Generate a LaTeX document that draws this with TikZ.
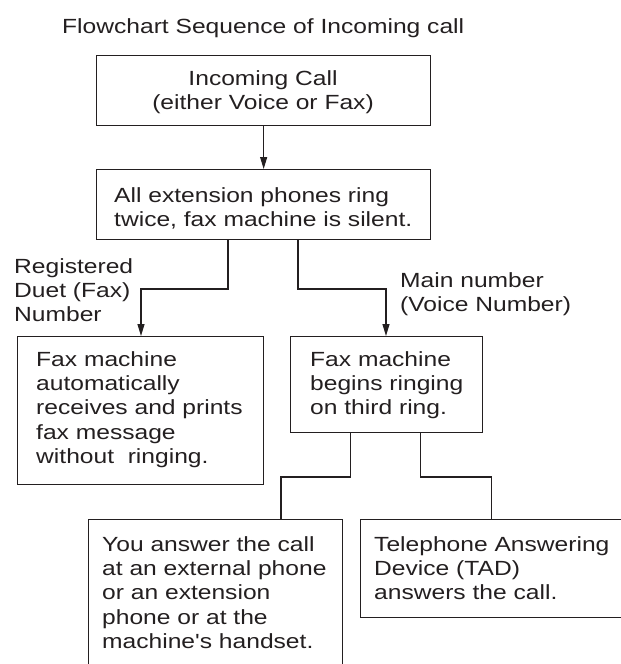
\documentclass[tikz,border=0pt]{standalone}
\usepackage{fontspec}
\setmainfont{Liberation Sans}[FakeStretch=1.2, Ligatures=TeXOff]
\usetikzlibrary{arrows.meta}
\definecolor{ink}{HTML}{231F20}
\begin{document}
\begin{tikzpicture}[x=1pt,y=-1pt,
 box/.style={draw=ink, line width=1.3pt, inner sep=0pt, anchor=north west},
 txt/.style={text=ink, inner sep=0pt, font=\fontsize{20.5}{24.3}\selectfont, align=left, anchor=north west},
 conn/.style={draw=ink, line width=1.1pt},
 arr/.style={conn, -{Triangle[length=12pt,width=7pt]}}]
\useasboundingbox (0,0) rectangle (621,664);
\clip (0,0) rectangle (621,664);
% boxes
\node[box, minimum width=334pt, minimum height=70pt] (b1) at (96,55) {};
\node[box, minimum width=334pt, minimum height=70pt] (b2) at (96,169) {};
\node[box, minimum width=246pt, minimum height=148pt] (b3) at (17,336) {};
\node[box, minimum width=192.5pt, minimum height=96pt] (b4) at (289.5,336) {};
\node[box, minimum width=254pt, minimum height=170pt] (b5) at (88,519) {};
\node[box, minimum width=280pt, minimum height=98pt] (b6) at (359.6,519) {};
% texts
\node[txt] (title) at (62,15.99) {\strut Flowchart Sequence of Incoming call};
\node[txt, anchor=north, align=center] (t1) at (263,67.99) {\strut Incoming Call\\(either Voice or Fax)};
\node[txt] (t2) at (114,185) {\strut All extension phones ring\\twice, fax machine is silent.};
\node[txt] (t3) at (36,349) {\strut Fax machine\\automatically\\receives and prints\\fax message\\without\ \ ringing.};
\node[txt] (t4) at (310,349) {\strut Fax machine\\begins ringing\\on third ring.};
\node[txt] (t5) at (102,534) {\strut You answer the call\\at an external phone\\or an extension\\phone or at the\\machine's handset.};
\node[txt] (t6) at (374,534) {\strut Telephone Answering\\Device (TAD)\\answers the call.};
\node[txt] (lab1) at (14,256) {\strut Registered\\Duet (Fax)\\Number};
\node[txt] (lab2) at (400,270) {\strut Main number\\(Voice Number)};
% connector corners
\coordinate (l1) at (228,289);
\coordinate (l2) at (141,289);
\coordinate (r1) at (298,289);
\coordinate (r2) at (386,289);
\coordinate (m1) at (350.5,477);
\coordinate (m2) at (281,477);
\coordinate (n1) at (420.6,477);
\coordinate (n2) at (491.5,477);
% connectors
\draw[arr] (b1.south) -- (b2.north);
\draw[arr] (l1 |- b2.south) -- (l1) -- (l2) -- (l2 |- b3.north);
\draw[arr] (r1 |- b2.south) -- (r1) -- (r2) -- (r2 |- b4.north);
\draw[conn] (m1 |- b4.south) -- (m1) -- (m2) -- (m2 |- b5.north);
\draw[conn] (n1 |- b4.south) -- (n1) -- (n2) -- (n2 |- b6.north);
\end{tikzpicture}
\end{document}
